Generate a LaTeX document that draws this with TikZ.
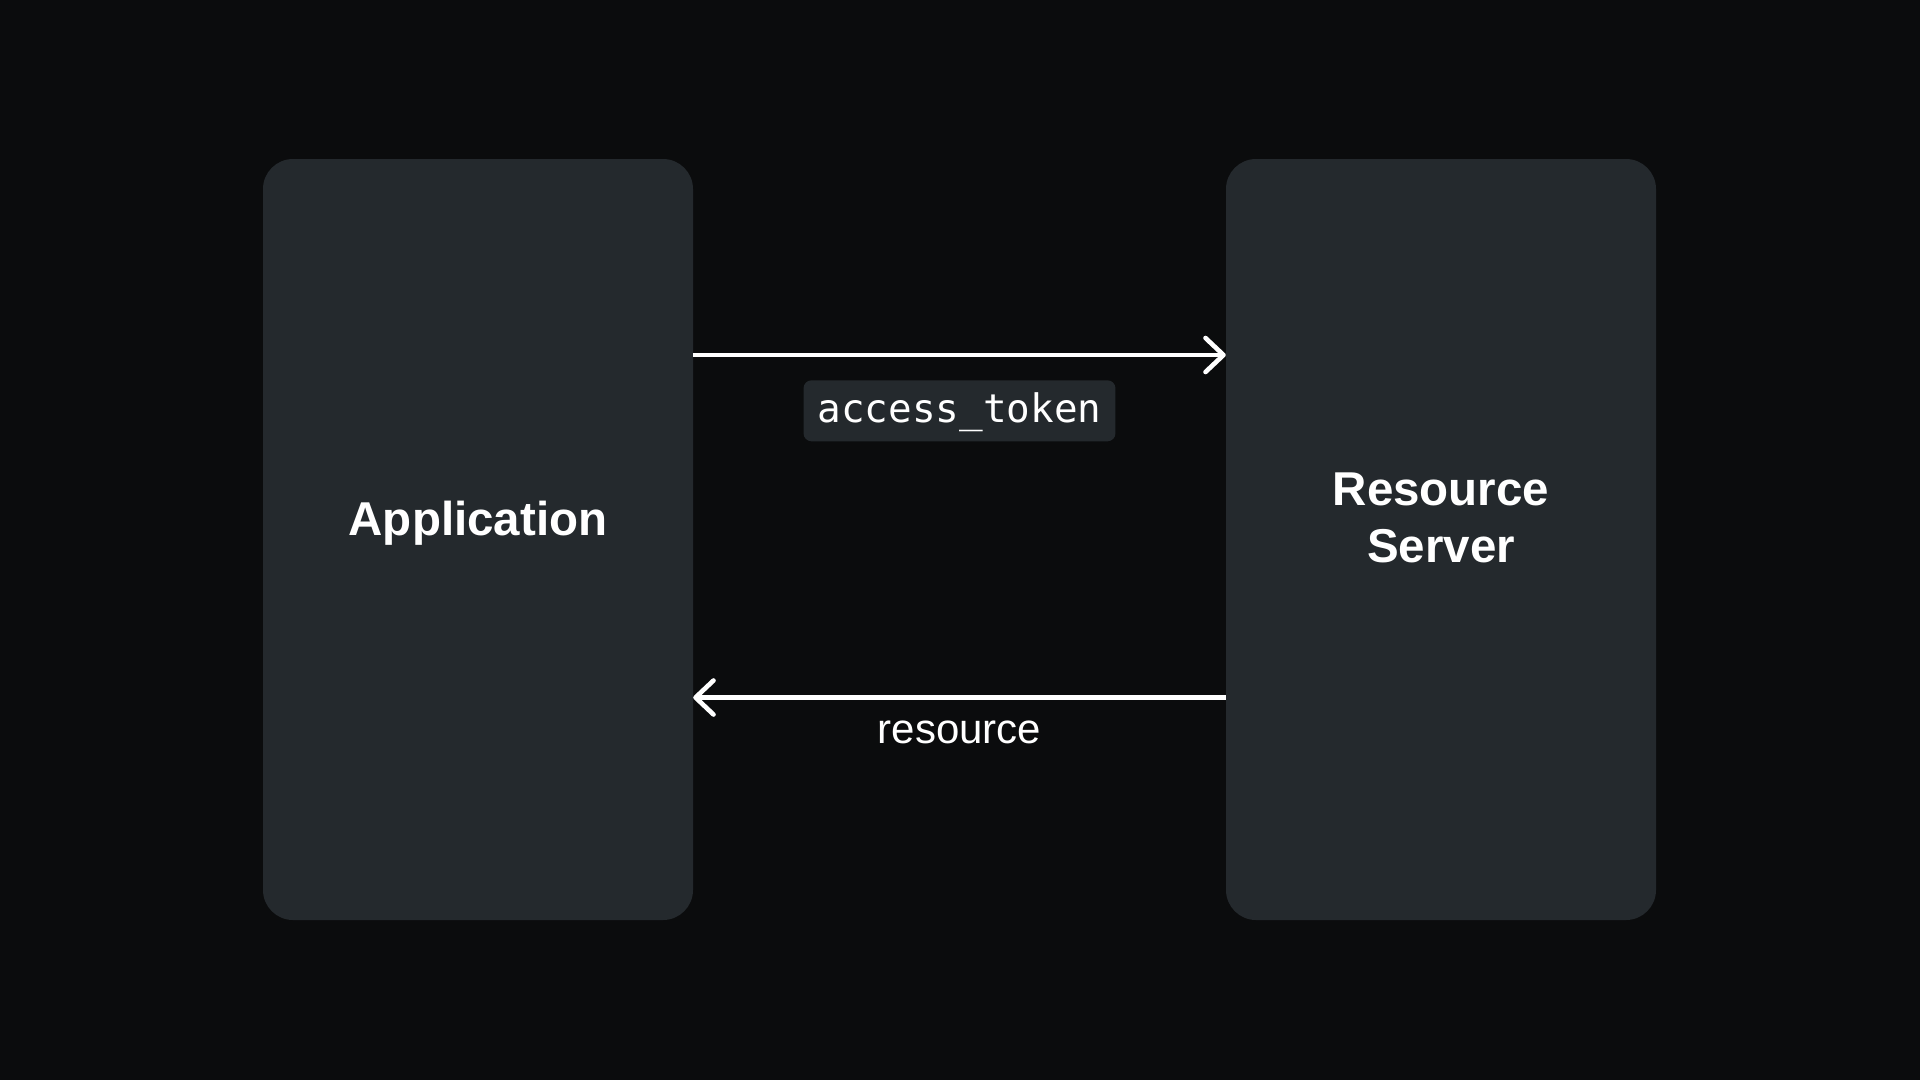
\documentclass[tikz,border=0pt]{standalone}
\usepackage{fontspec}
\setmainfont{Liberation Sans}
\setmonofont{DejaVu Sans Mono}
\usetikzlibrary{arrows.meta, positioning}
\definecolor{bgcol}{HTML}{0B0C0D}
\definecolor{boxcol}{HTML}{24292D}

\begin{document}
\begin{tikzpicture}[x=1pt, y=-1pt,
  party/.style={fill=boxcol, rounded corners=30pt, minimum width=430pt, minimum height=761pt, inner sep=0pt},
  title/.style={text=white, font=\fontsize{47.5}{57}\selectfont\bfseries, align=center},
  flow/.style={draw=white, line width=4.6pt, -{Straight Barb[length=18pt, width=34pt, round]}},
  token/.style={fill=boxcol, rounded corners=8pt, text=white, font=\ttfamily\fontsize{39.3}{40}\selectfont, minimum height=61pt, inner xsep=14pt, text height=30pt, text depth=6pt},
  msg/.style={text=white, font=\fontsize{42}{50}\selectfont}]
\useasboundingbox [fill=bgcol] (0,0) rectangle (1920,1080);
% the two parties
\node [party] (app) at (478,539.5) {};
\node [party] (rs) at (1441,539.5) {};
\node [title, anchor=base] (apptitle) at ([yshift=4.5pt]app.center) {Application};
\node [title] (rstitle) at ([yshift=22pt]rs.center) {Resource\\Server};
% request and response
\draw [flow] ([yshift=184.5pt]app.east) -- ([yshift=184.5pt]rs.west) node [token, midway, below=23pt] (tok) {access\_token};
\draw [flow] ([yshift=-158pt]rs.west) -- ([yshift=-158pt]app.east) node [msg, midway, anchor=base, yshift=-45.5pt] (res) {resource};
\end{tikzpicture}
\end{document}
